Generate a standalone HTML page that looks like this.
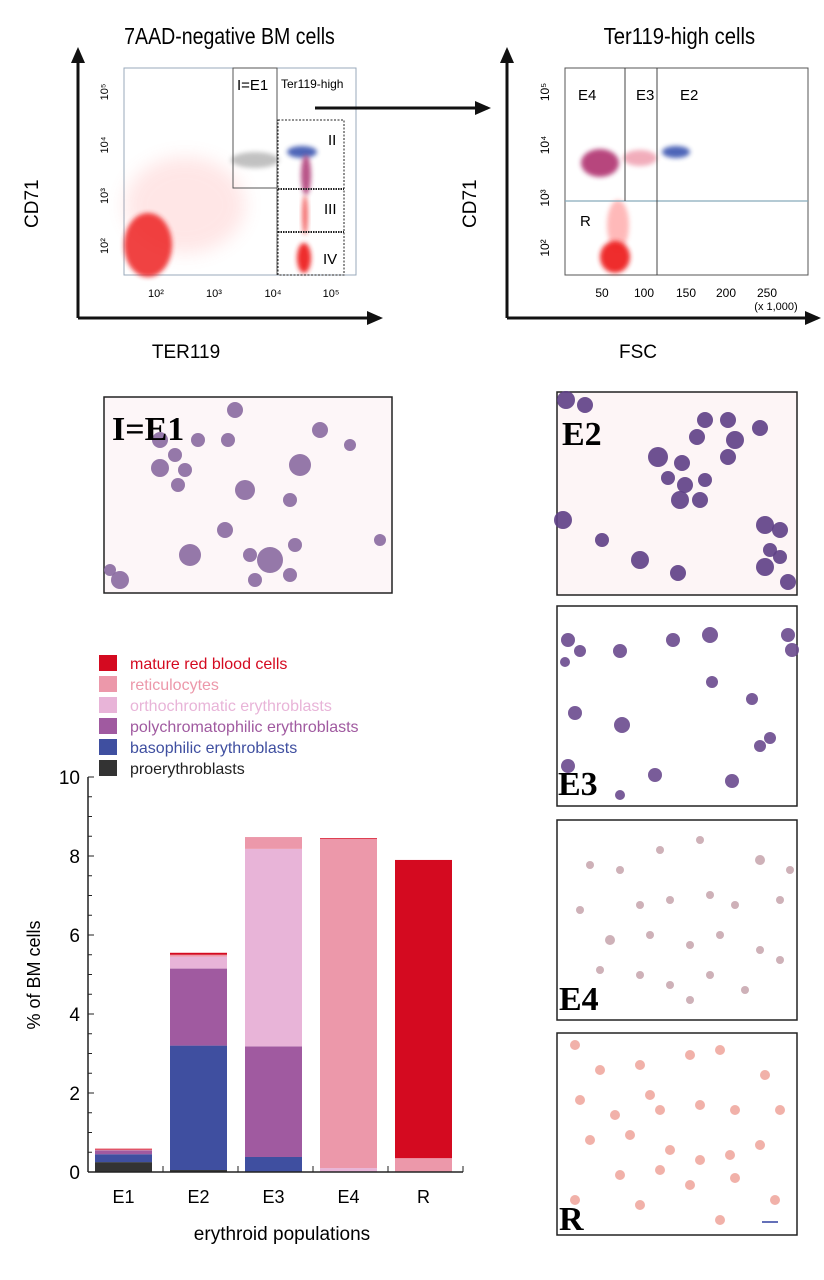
<!DOCTYPE html>
<html><head><meta charset="utf-8"><style>
html,body{margin:0;padding:0;background:#fff;}
svg{display:block;font-family:"Liberation Sans",sans-serif;}
</style></head><body>
<svg id="fig" width="824" height="1280" viewBox="0 0 824 1280">
<defs>
<filter id="blur2" x="-50%" y="-50%" width="200%" height="200%"><feGaussianBlur stdDeviation="2.5"/></filter>
<filter id="blur3" x="-50%" y="-50%" width="200%" height="200%"><feGaussianBlur stdDeviation="4"/></filter>
<filter id="blur8" x="-50%" y="-50%" width="200%" height="200%"><feGaussianBlur stdDeviation="9"/></filter>
<marker id="arr" markerUnits="userSpaceOnUse" markerWidth="16" markerHeight="14" refX="13" refY="7" orient="auto"><path d="M0,0 L16,7 L0,14 z" fill="#111"/></marker>
</defs>

<!-- LEFT FLOW PLOT -->
<g>
<text x="230" y="44" font-size="23" text-anchor="middle" transform="scale(0.85,1) translate(40,0)">7AAD-negative BM cells</text>
<line x1="78" y1="318" x2="78" y2="50" stroke="#111" stroke-width="3" marker-end="url(#arr)"/>
<line x1="78" y1="318" x2="380" y2="318" stroke="#111" stroke-width="3" marker-end="url(#arr)"/>
<text x="0" y="0" font-size="19" transform="translate(38,228) rotate(-90)">CD71</text>
<text x="186" y="358" font-size="19" text-anchor="middle">TER119</text>
<rect x="124" y="68" width="232" height="207" fill="#fff" stroke="#9ab" stroke-width="1"/>
<g>
<ellipse cx="185" cy="205" rx="60" ry="48" fill="#f77" opacity="0.18" filter="url(#blur8)"/>
<ellipse cx="148" cy="245" rx="24" ry="32" fill="#e22" opacity="0.85" filter="url(#blur2)"/>
<ellipse cx="255" cy="160" rx="24" ry="8" fill="#777" opacity="0.45" filter="url(#blur2)"/>
<ellipse cx="302" cy="152" rx="15" ry="6" fill="#3a55b0" opacity="0.9" filter="url(#blur2)"/>
<ellipse cx="306" cy="175" rx="5" ry="20" fill="#b03f7a" opacity="0.9" filter="url(#blur2)"/>
<ellipse cx="305" cy="215" rx="3" ry="20" fill="#e33" opacity="0.7" filter="url(#blur2)"/>
<ellipse cx="304" cy="258" rx="7" ry="15" fill="#e22" opacity="0.95" filter="url(#blur2)"/>
</g>
<rect x="233" y="68" width="44" height="120" fill="none" stroke="#555" stroke-width="1"/>
<line x1="277" y1="68" x2="277" y2="275" stroke="#555"/>
<rect x="278" y="120" width="66" height="155" fill="none" stroke="#222" stroke-dasharray="2,1.5"/>
<line x1="278" y1="189" x2="344" y2="189" stroke="#222" stroke-width="2" stroke-dasharray="1.5,1"/>
<line x1="278" y1="232" x2="344" y2="232" stroke="#222" stroke-width="2" stroke-dasharray="1.5,1"/>
<text x="237" y="90" font-size="15">I=E1</text>
<text x="281" y="88" font-size="12">Ter119-high</text>
<text x="328" y="145" font-size="15">II</text>
<text x="324" y="214" font-size="15">III</text>
<text x="323" y="264" font-size="15">IV</text>
<g font-size="11">
<text x="156" y="297" text-anchor="middle">10²</text><text x="214" y="297" text-anchor="middle">10³</text>
<text x="273" y="297" text-anchor="middle">10⁴</text><text x="331" y="297" text-anchor="middle">10⁵</text>
<text transform="translate(108,92) rotate(-90)" text-anchor="middle">10⁵</text>
<text transform="translate(108,145) rotate(-90)" text-anchor="middle">10⁴</text>
<text transform="translate(108,196) rotate(-90)" text-anchor="middle">10³</text>
<text transform="translate(108,246) rotate(-90)" text-anchor="middle">10²</text>
</g>
<line x1="315" y1="108" x2="488" y2="108" stroke="#111" stroke-width="3" marker-end="url(#arr)"/>
</g>

<!-- RIGHT FLOW PLOT -->
<g>
<text x="680" y="44" font-size="23" text-anchor="middle" transform="scale(0.88,1) translate(92,0)">Ter119-high cells</text>
<line x1="507" y1="318" x2="507" y2="50" stroke="#111" stroke-width="3" marker-end="url(#arr)"/>
<line x1="507" y1="318" x2="818" y2="318" stroke="#111" stroke-width="3" marker-end="url(#arr)"/>
<text font-size="19" transform="translate(476,228) rotate(-90)">CD71</text>
<text x="638" y="358" font-size="19" text-anchor="middle">FSC</text>
<rect x="565" y="68" width="243" height="207" fill="#fff" stroke="#555"/>
<ellipse cx="600" cy="163" rx="19" ry="14" fill="#b03070" opacity="0.9" filter="url(#blur2)"/>
<ellipse cx="640" cy="158" rx="17" ry="8" fill="#e9a" opacity="0.8" filter="url(#blur2)"/>
<ellipse cx="676" cy="152" rx="14" ry="6" fill="#3a55b0" opacity="0.9" filter="url(#blur2)"/>
<ellipse cx="618" cy="225" rx="11" ry="25" fill="#f66" opacity="0.45" filter="url(#blur2)"/>
<ellipse cx="615" cy="257" rx="15" ry="16" fill="#e22" opacity="0.95" filter="url(#blur2)"/>
<line x1="565" y1="201" x2="808" y2="201" stroke="#8ab" stroke-width="1.3"/>
<line x1="625" y1="68" x2="625" y2="201" stroke="#444"/>
<line x1="657" y1="68" x2="657" y2="275" stroke="#444"/>
<text x="578" y="100" font-size="15">E4</text><text x="636" y="100" font-size="15">E3</text><text x="680" y="100" font-size="15">E2</text>
<text x="580" y="226" font-size="15">R</text>
<g font-size="12">
<text x="602" y="297" text-anchor="middle">50</text><text x="644" y="297" text-anchor="middle">100</text>
<text x="686" y="297" text-anchor="middle">150</text><text x="726" y="297" text-anchor="middle">200</text>
<text x="767" y="297" text-anchor="middle">250</text><text x="776" y="310" text-anchor="middle" font-size="11">(x 1,000)</text>
<text transform="translate(549,92) rotate(-90)" text-anchor="middle">10⁵</text>
<text transform="translate(549,145) rotate(-90)" text-anchor="middle">10⁴</text>
<text transform="translate(549,198) rotate(-90)" text-anchor="middle">10³</text>
<text transform="translate(549,248) rotate(-90)" text-anchor="middle">10²</text>
</g>
</g>

<g id="micro"></g>
<g id="chart"></g>
</svg>
<script>
const categories = ["E1","E2","E3","E4","R"];
const seriesNames = ["proerythroblasts","basophilic erythroblasts","polychromatophilic erythroblasts","orthochromatic erythroblasts","reticulocytes","mature red blood cells"];
const proerythroblasts = [0.25,0.05,0,0,0];
const basophilic = [0.2,3.15,0.38,0,0];
const polychromatophilic = [0.1,1.95,2.8,0,0];
const orthochromatic = [0.0,0.3,5.0,0.1,0];
const reticulocytes = [0.02,0.05,0.3,8.33,0.35];
const mature = [0.02,0.05,0,0.02,7.55];
const yTicks = [0,2,4,6,8,10];
const colors = ["#333333","#3f4fa0","#a05aa0","#e8b4d8","#ec98aa","#d40a20"];
const NS="http://www.w3.org/2000/svg";
function mk(t,a,p){const e=document.createElementNS(NS,t);for(const k in a)e.setAttribute(k,a[k]);p.appendChild(e);return e;}
const chart=document.getElementById('chart');
const X0=88,X1=463,Y0=1172,Y1=777;
const y=v=>Y0-(v/10)*(Y0-Y1);
const band=(X1-X0)/categories.length;
const x=i=>X0+i*band+7;
const bw=band-18;
const allSeries=[proerythroblasts,basophilic,polychromatophilic,orthochromatic,reticulocytes,mature];
categories.forEach((c,i)=>{
  let acc=0;
  allSeries.forEach((s,j)=>{
    const v=s[i]; if(v<=0)return;
    const r=mk('rect',{x:x(i),y:y(acc+v),width:bw,height:y(acc)-y(acc+v),fill:colors[j]},chart);
    
    
    acc+=v;
  });
  const t=mk('text',{x:x(i)+bw/2,y:1203,'font-size':18,'text-anchor':'middle'},chart);t.textContent=c;
  
  
});
mk('line',{x1:X0,y1:Y1,x2:X0,y2:Y0,stroke:'#222','stroke-width':1.5},chart);
mk('line',{x1:X0,y1:Y0,x2:X1,y2:Y0,stroke:'#222','stroke-width':1.5},chart);
for(let v=0;v<=10;v+=0.5){mk('line',{x1:X0,y1:y(v),x2:X0+(v%2===0?6:4),y2:y(v),stroke:'#222'},chart);}
for(let i=0;i<=categories.length;i++){mk('line',{x1:X0+i*band,y1:Y0,x2:X0+i*band,y2:Y0-6,stroke:'#222'},chart);}
yTicks.forEach(v=>{const t=mk('text',{x:X0-8,y:y(v)+7,'font-size':19,'text-anchor':'end'},chart);t.textContent=v;
  
  });
let t=mk('text',{transform:'translate(40,975) rotate(-90)','font-size':18,'text-anchor':'middle'},chart);t.textContent='% of BM cells';


t=mk('text',{x:282,y:1240,'font-size':19,'text-anchor':'middle'},chart);t.textContent='erythroid populations';


const legendText=["#d40a20","#ec98aa","#e8b4d8","#a05aa0","#3f4fa0","#222"];
for(let k=0;k<6;k++){
  const j=5-k, yy=655+k*21;
  const g=mk('g',{},chart);
  
  
  mk('rect',{x:99,y:yy,width:18,height:16,fill:colors[j]},g);
  const tt=mk('text',{x:130,y:yy+14,'font-size':16,fill:legendText[k]},g);tt.textContent=seriesNames[j];
}
const micro=document.getElementById('micro');
const panels=[
 {n:"I=E1",x:104,y:397,w:288,h:196,lab:[112,440],bg:"#fdf6f8",cells:[[235,410,8],[160,440,8],[175,455,7],[160,468,9],[185,470,7],[178,485,7],[198,440,7],[228,440,7],[245,490,10],[300,465,11],[320,430,8],[290,500,7],[350,445,6],[190,555,11],[225,530,8],[270,560,13],[250,555,7],[295,545,7],[290,575,7],[255,580,7],[120,580,9],[110,570,6],[380,540,6]],col:"#8a6aa0"},
 {n:"E2",x:557,y:392,w:240,h:203,lab:[562,445],bg:"#fdf5f6",cells:[[566,400,9],[585,405,8],[705,420,8],[728,420,8],[735,440,9],[760,428,8],[697,437,8],[728,457,8],[658,457,10],[682,463,8],[668,478,7],[685,485,8],[705,480,7],[680,500,9],[700,500,8],[563,520,9],[602,540,7],[640,560,9],[678,573,8],[765,525,9],[780,530,8],[770,550,7],[780,557,7],[765,567,9],[788,582,8]],col:"#5e3f86"},
 {n:"E3",x:557,y:606,w:240,h:200,lab:[558,795],bg:"#ffffff",cells:[[568,640,7],[580,651,6],[565,662,5],[620,651,7],[673,640,7],[710,635,8],[788,635,7],[792,650,7],[712,682,6],[752,699,6],[575,713,7],[622,725,8],[770,738,6],[760,746,6],[568,766,7],[655,775,7],[732,781,7],[620,795,5]],col:"#6a4a8e"},
 {n:"E4",x:557,y:820,w:240,h:200,lab:[559,1010],bg:"#ffffff",cells:[],col:"#c9a8b0"},
 {n:"R",x:557,y:1033,w:240,h:202,lab:[559,1230],bg:"#ffffff",cells:[],col:"#f0a8a0"}];
panels[3].cells=[[590,865,4],[620,870,4],[660,850,4],[700,840,4],[760,860,5],[790,870,4],[580,910,4],[640,905,4],[670,900,4],[710,895,4],[735,905,4],[780,900,4],[610,940,5],[650,935,4],[690,945,4],[720,935,4],[760,950,4],[600,970,4],[640,975,4],[670,985,4],[710,975,4],[745,990,4],[780,960,4],[690,1000,4]];
panels[4].cells=[[575,1045,5],[600,1070,5],[640,1065,5],[690,1055,5],[720,1050,5],[765,1075,5],[580,1100,5],[615,1115,5],[650,1095,5],[660,1110,5],[700,1105,5],[735,1110,5],[780,1110,5],[590,1140,5],[630,1135,5],[670,1150,5],[700,1160,5],[730,1155,5],[760,1145,5],[620,1175,5],[660,1170,5],[735,1178,5],[690,1185,5],[575,1200,5],[640,1205,5],[720,1220,5],[775,1200,5]];
panels.forEach(p=>{
  const g=mk('g',{},micro);
  
  
  mk('rect',{x:p.x,y:p.y,width:p.w,height:p.h,fill:p.bg,stroke:'#222','stroke-width':1.5},g);
  p.cells.forEach(c=>mk('circle',{cx:c[0],cy:c[1],r:c[2],fill:p.col,opacity:0.9},g));
  const t=mk('text',{x:p.lab[0],y:p.lab[1],'font-size':34,'font-weight':'bold','font-family':'Liberation Serif, serif'},g);t.textContent=p.n;
  
  
});
mk('line',{x1:762,y1:1222,x2:778,y2:1222,stroke:'#3040a0','stroke-width':1.5},micro);
</script>
</body></html>
